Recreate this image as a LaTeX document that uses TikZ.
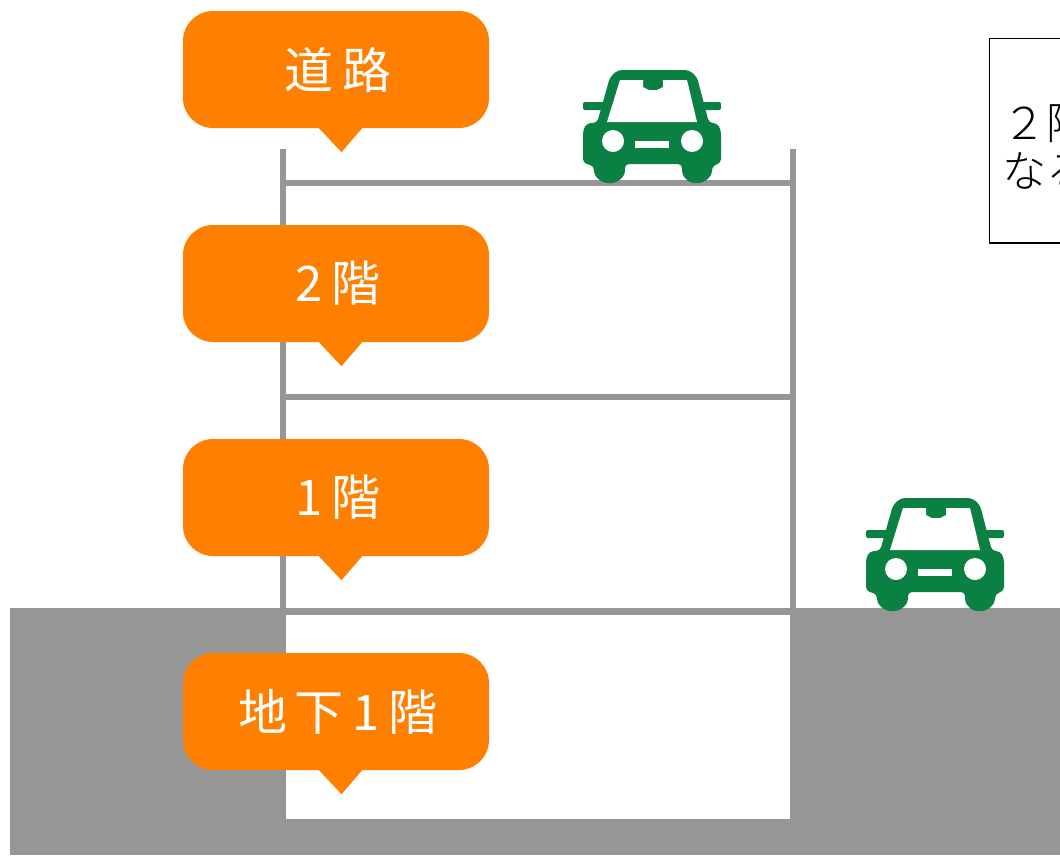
\documentclass[tikz,border=0pt]{standalone}
\usepackage{fontspec}
\newfontfamily\cjk{Noto Sans CJK JP}
\newfontfamily\cjklight{Noto Sans CJK JP Light}
\definecolor{floorgray}{HTML}{969696}
\definecolor{bubbleorange}{HTML}{FF7F00}
\definecolor{cargreen}{HTML}{0B8043}
\tikzset{
    floorline/.style={draw=floorgray,line width=6pt},
    bubble/.style={fill=bubbleorange,text=white,rounded corners=30pt,minimum width=306pt,minimum height=117pt,inner sep=0pt,font=\cjk\fontsize{49pt}{52pt}\selectfont},
    pics/car/.style={code={
        % mirrors, body, roof and wheels
        \fill[cargreen,rounded corners=2pt] (0,32) rectangle (28,40);
        \fill[cargreen,rounded corners=2pt] (110,32) rectangle (138,40);
        \fill[cargreen,rounded corners=4pt] (0,60) -- (4,53) -- (14,53) -- (27,7) -- (35,0) -- (106,0) -- (114,7) -- (126,53) -- (134,53) -- (138,60) -- (138,93) -- (129,96) -- (129,105) -- (120,113) -- (107,113) -- (99,105) -- (99,94) -- (42,94) -- (42,105) -- (33,113) -- (20,113) -- (11,105) -- (11,96) -- (0,93) -- cycle;
        % windscreen, lamps and plate
        \fill[white] (24,52) -- (37,10) -- (60,10) -- (60,17) -- (66,20) -- (74,20) -- (80,17) -- (80,10) -- (104,10) -- (114,52) -- cycle;
        \fill[white] (30,71) circle (11);
        \fill[white] (109,71) circle (11);
        \fill[white] (52,71) rectangle (86,78);
    }},
}
\begin{document}
\begin{tikzpicture}[x=1pt,y=-1pt]
    \useasboundingbox (0,0) rectangle (1060,855);
    \clip (0,0) rectangle (1060,855);

    % ground and basement
    \fill[floorgray] (10,608) rectangle (1060,855);
    \fill[white] (286,615) rectangle (790,819);

    % building frame
    \draw[floorline] (283,149) -- (283,614);
    \draw[floorline] (793,149) -- (793,614);
    \foreach \y in {183,397,611}
        \draw[floorline] (283,\y) -- (793,\y);

    % cars
    \pic at (583,70) {car};
    \pic at (866,498) {car};

    % floor labels
    \foreach \name/\y/\label in {road/69.5/道\hspace{9pt}路,second/283.5/2\hspace{9pt}階,first/497.5/1\hspace{9pt}階,basement/711.5/地\hspace{7pt}下\hspace{9pt}1\hspace{9pt}階}{
        \node[bubble] (\name) at (336,\y) {\hspace{4pt}\label};
        \fill[bubbleorange] ([xshift=-18pt,yshift=1pt]\name.south) -- ([xshift=5.5pt,yshift=-24pt]\name.south) -- ([xshift=27pt,yshift=1pt]\name.south) -- cycle;
    }

    % note box running off the right edge
    \draw[line width=1.5pt,black] (989.5,38.5) rectangle (1075,243);
    \node[anchor=west,align=left,inner sep=0pt,font=\cjklight\fontsize{44pt}{48pt}\selectfont] (note) at (1002,146) {２階\\なる};
\end{tikzpicture}
\end{document}
